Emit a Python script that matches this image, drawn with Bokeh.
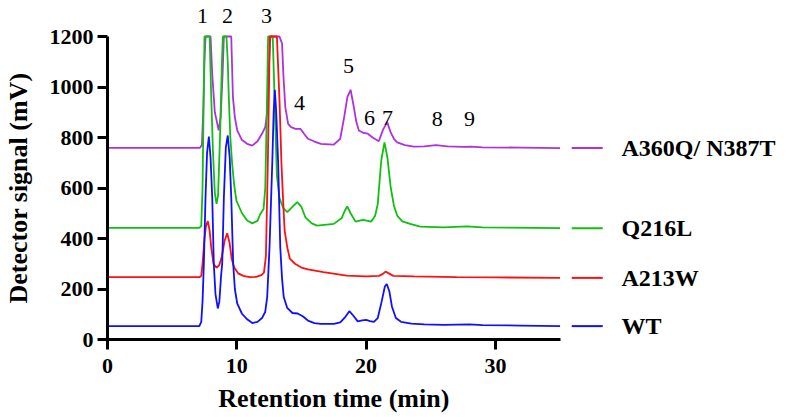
import math
from bokeh.plotting import figure
from bokeh.models import FixedTicker, Range1d, ColumnDataSource
from bokeh.core.properties import value
from bokeh.embed import file_html
from bokeh.resources import INLINE

# ---------------- data ----------------
series_names = ["A360Q/ N387T", "Q216L", "A213W", "WT"]
series_colors = ["#B030E0", "#10C010", "#FF1010", "#1010FF"]

wt_time = [0, 7.1, 7.25, 7.35, 7.45, 7.58, 7.7, 7.84, 7.97, 8.1, 8.22, 8.35, 8.53, 8.65, 8.78,
           8.87, 9.0, 9.15, 9.3, 9.45, 9.57, 9.72, 9.85, 10.03, 10.4, 10.8, 11.2, 11.6, 11.95,
           12.2, 12.35, 12.53, 12.74, 12.85, 12.94, 13.05, 13.2, 13.36, 13.5, 13.63, 13.9, 14.3,
           14.7, 15.1, 15.5, 16.0, 16.5, 17.5, 18.0, 18.4, 18.7, 19.0, 19.35, 19.7, 20.0, 20.3,
           20.6, 20.9, 21.2, 21.45, 21.6, 21.8, 22.0, 22.3, 22.7, 23.5, 24.5, 26, 28, 29, 32, 35]
wt_signal = [53, 53, 70, 150, 300, 563, 740, 804, 720, 563, 300, 180, 123, 150, 250,
             300, 563, 760, 808, 720, 563, 300, 200, 143, 102, 80, 65, 70, 85,
             110, 168, 366, 696, 900, 989, 900, 696, 366, 240, 168, 125, 105,
             103, 92, 75, 65, 62, 62, 68, 90, 112, 95, 72, 76, 78, 73,
             70, 85, 150, 210, 220, 190, 130, 85, 70, 63, 60, 58, 60, 57, 55, 53]

a213w_time = [0, 7.1, 7.25, 7.35, 7.5, 7.62, 7.76, 7.9, 8.02, 8.2, 8.43, 8.65, 8.85, 9.05, 9.26,
              9.45, 9.6, 9.8, 10.1, 10.5, 11.0, 11.5, 11.9, 12.1, 12.25, 12.4, 12.55, 13.1,
              13.3, 13.45, 13.57, 13.7, 13.9, 14.1, 14.5, 15.0, 15.5, 16.7, 18.5, 20.0, 21.0,
              21.3, 21.5, 21.75, 22.1, 23.7, 27, 30, 35]
a213w_signal = [247, 247, 252, 300, 400, 450, 469, 430, 366, 300, 284, 295, 330, 390, 421,
                380, 320, 285, 262, 252, 247, 248, 255, 265, 330, 700, 1200, 1200,
                950, 700, 563, 430, 366, 320, 300, 285, 278, 267, 253, 250, 252,
                260, 269, 262, 252, 250, 247, 246, 244]

q216l_time = [0, 7.1, 7.25, 7.35, 7.45, 7.5, 7.9, 8.0, 8.15, 8.3, 8.43, 8.55, 8.7, 8.85, 8.92,
              9.2, 9.3, 9.38, 9.5, 9.64, 9.8, 9.97, 10.4, 10.8, 11.2, 11.6, 11.8, 12.07, 12.2,
              12.3, 12.42, 12.78, 12.95, 13.1, 13.3, 13.6, 13.9, 14.3, 14.67, 15.0, 15.3, 15.8,
              16.2, 17.5, 18.1, 18.35, 18.54, 18.8, 19.18, 19.77, 20.4, 20.7, 20.9, 21.17,
              21.42, 21.65, 21.9, 22.15, 22.4, 22.8, 23.4, 24.2, 26, 27.8, 29, 35]
q216l_signal = [442, 442, 450, 600, 1000, 1200, 1200, 1000, 750, 580, 537, 570, 800, 1100, 1200,
                1200, 1100, 960, 800, 696, 610, 550, 500, 471, 460, 470, 495, 517, 600,
                850, 1200, 1200, 900, 650, 560, 520, 504, 525, 544, 525, 484, 460,
                451, 458, 480, 510, 527, 500, 467, 474, 467, 490, 537, 709,
                781, 720, 603, 530, 491, 468, 458, 447, 444, 448, 444, 441]

a360q_time = [0, 7.15, 7.3, 7.4, 7.5, 7.58, 7.97, 8.1, 8.3, 8.6, 8.75, 8.9, 9.0, 9.57, 9.7,
              9.85, 10.03, 10.4, 10.8, 11.2, 11.6, 12.0, 12.2, 12.35, 12.5, 12.6, 13.3, 13.5,
              13.6, 13.75, 13.97, 14.2, 14.54, 14.93, 15.2, 15.5, 15.96, 16.5, 17.5, 18.0,
              18.3, 18.55, 18.8, 19.05, 19.25, 19.44, 19.8, 20.13, 20.5, 20.98, 21.3, 21.63,
              21.9, 22.15, 22.4, 23.0, 23.7, 24.5, 25.4, 26.3, 27.5, 28.1, 29, 32, 35]
a360q_signal = [759, 759, 770, 900, 1100, 1200, 1200, 1050, 900, 828, 880, 1050, 1200, 1200, 960,
                880, 828, 790, 775, 768, 785, 820, 841, 900, 1100, 1200, 1200, 1172,
                1050, 920, 854, 841, 834, 834, 815, 795, 785, 775, 772, 795,
                880, 960, 989, 920, 860, 828, 818, 815, 800, 785, 830, 861,
                820, 795, 781, 770, 764, 765, 770, 765, 763, 764, 761, 760, 758]

peak_labels = ["1", "2", "3", "4", "5", "6", "7", "8", "9"]
peak_label_time = [7.35, 9.28, 12.3, 14.85, 18.64, 20.26, 21.66, 25.5, 28.0]
peak_label_signal = [1283, 1283, 1283, 935, 1085, 879, 879, 875, 875]

x_ticks = [0, 10, 20, 30]
y_ticks = [0, 200, 400, 600, 800, 1000, 1200]
x_bounds = (0, 35)
y_bounds = (0, 1200)
x_title = "Retention time (min)"
y_title = "Detector signal (mV)"

# ---------------- figure ----------------
# the frame fills the whole canvas; both axes sit at zero inside it
p = figure(width=790, height=417, output_backend="svg", toolbar_location=None,
           x_range=Range1d(-8.275, 52.82), y_range=Range1d(-308.9, 1342.6),
           min_border=0, min_border_left=0, min_border_right=0,
           min_border_top=0, min_border_bottom=0)
p.outline_line_color = None
p.xgrid.visible = False
p.ygrid.visible = False
p.background_fill_color = "white"

serif = "Liberation Serif"
for ax in (p.xaxis[0], p.yaxis[0]):
    ax.fixed_location = 0
    ax.axis_line_width = 3
    ax.axis_line_color = "black"
    ax.major_tick_line_width = 3
    ax.major_tick_in = 0
    ax.major_tick_out = 10
    ax.minor_tick_line_color = None
    ax.major_label_text_font = serif
    ax.major_label_text_font_style = "bold"
    ax.major_label_text_font_size = "22px"
    ax.major_label_text_color = "black"

p.xaxis.bounds = x_bounds
p.yaxis.bounds = y_bounds
p.xaxis.ticker = FixedTicker(ticks=x_ticks)
p.yaxis.ticker = FixedTicker(ticks=y_ticks)
p.xaxis.major_label_standoff = 9
p.yaxis.major_label_standoff = 4

# axis titles, centred on the bounded axes
p.text(x=[sum(x_bounds) / 2], y=[-234], text=[x_title], text_font=value(serif),
       text_font_style="bold", text_font_size="26px", text_align="center",
       text_baseline="middle", text_color="black")
p.text(x=[-6.9], y=[sum(y_bounds) / 2], text=[y_title], angle=math.pi / 2,
       text_font=value(serif), text_font_style="bold", text_font_size="26px",
       text_align="center", text_baseline="middle", text_color="black")

traces = [(a360q_time, a360q_signal), (q216l_time, q216l_signal),
          (a213w_time, a213w_signal), (wt_time, wt_signal)]
for (t, s), c in zip(traces, series_colors):
    p.line(t, s, line_color=c, line_width=1.8)

# legend-like entries at each trace's baseline level
legend_y = [s[-1] for _, s in traces]
leg_src = ColumnDataSource(dict(x0=[35.9] * 4, x1=[38.3] * 4, y=legend_y,
                                tx=[39.75] * 4, name=series_names, color=series_colors))
p.segment(x0="x0", y0="y", x1="x1", y1="y", line_color="color", line_width=2, source=leg_src)
p.text(x="tx", y="y", text="name", source=leg_src, text_font=value(serif),
       text_font_style="bold", text_font_size="24px", text_baseline="middle",
       text_align="left", text_color="black")

p.text(x=peak_label_time, y=peak_label_signal, text=peak_labels, text_font=value(serif),
       text_font_size="22px", text_align="center", text_baseline="middle", text_color="black")

open("out.html", "w").write(file_html(p, INLINE))
